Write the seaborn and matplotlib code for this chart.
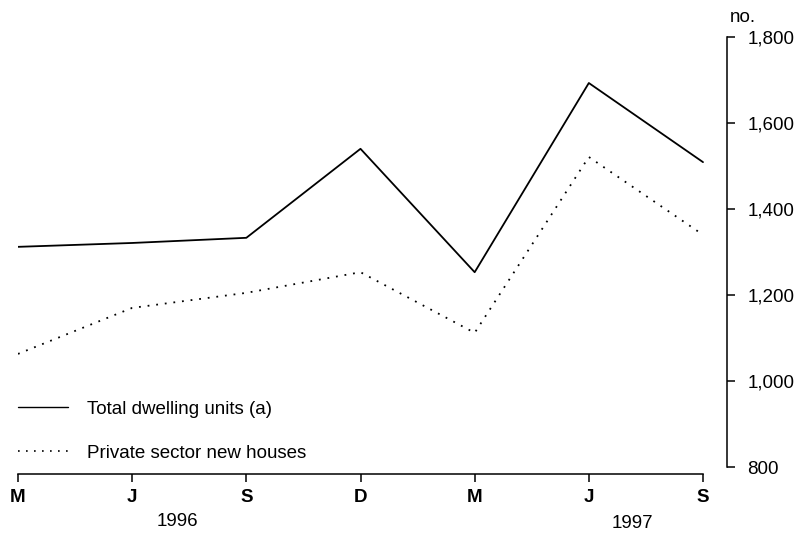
import matplotlib
matplotlib.use("Agg")
import matplotlib.pyplot as plt
import seaborn as sns
import pandas as pd
from matplotlib.lines import Line2D

quarters = ["M", "J", "S", "D", "M", "J", "S"]
total_units = [1312, 1321, 1333, 1540, 1253, 1693, 1509]
private_houses = [1063, 1170, 1205, 1253, 1112, 1521, 1340]
y_ticks = [800, 1000, 1200, 1400, 1600, 1800]
y_tick_labels = ["800", "1,000", "1,200", "1,400", "1,600", "1,800"]
years = ["1996", "1997"]
series_names = ["Total dwelling units (a)", "Private sector new houses"]

sns.set_style("white")
plt.rcParams["font.family"] = ["Liberation Sans", "DejaVu Sans"]
plt.rcParams["text.color"] = "black"
plt.rcParams["xtick.color"] = "black"
plt.rcParams["ytick.color"] = "black"

FS = 13.5

idx = list(range(len(quarters)))
df = pd.DataFrame({
    "idx": idx * 2,
    "value": total_units + private_houses,
    "series": [series_names[0]] * len(idx) + [series_names[1]] * len(idx),
})

fig = plt.figure(figsize=(7.98, 5.33), dpi=100)
W, H = 798, 533
ax = fig.add_axes([18 / W, 1 - 474 / H, (727 - 18) / W, (474 - 37) / H])

DOT = (0, (1, 3.8))
styles = {series_names[0]: "-", series_names[1]: DOT}
for name in series_names:
    sub = df[df["series"] == name]
    sns.lineplot(data=sub, x="idx", y="value", ax=ax, color="black",
                 linewidth=1.3,
                 linestyle=styles[name], legend=False)

ax.set_xlim(0, (727 - 18) / ((703 - 18) / 6))
ax.set_ylim(800 - 7 / 0.43, 1800)

ax.yaxis.tick_right()
ax.spines["left"].set_visible(False)
ax.spines["top"].set_visible(False)
ax.spines["right"].set_bounds(800, 1800)
ax.spines["bottom"].set_bounds(0, 6)
for s in ["right", "bottom"]:
    ax.spines[s].set_color("black")
    ax.spines[s].set_linewidth(1.1)

ax.set_yticks(y_ticks)
ax.set_yticklabels(y_tick_labels)
ax.set_xticks(idx)
ax.set_xticklabels(quarters, fontweight="bold")
ax.tick_params(axis="y", direction="out", length=6, width=1.1, pad=8.5,
               labelsize=FS, right=True, left=False, colors="black")
ax.tick_params(axis="x", direction="out", length=6, width=1.1, pad=5,
               labelsize=FS, bottom=True, colors="black")
ax.set_xlabel("")
ax.set_ylabel("")

fig.text(730 / W, 1 - 18 / H, "no.", fontsize=FS, ha="left", va="center")
fig.text(177 / W, 1 - 522 / H, years[0], fontsize=FS, ha="center", va="center")
fig.text(632 / W, 1 - 523 / H, years[1], fontsize=FS, ha="center", va="center")

handles = [Line2D([], [], color="black", linewidth=1.0, linestyle="-"),
           Line2D([], [], color="black", linewidth=1.2, linestyle=DOT)]
fig.legend(handles, series_names, loc="upper left",
           bbox_to_anchor=(10.5 / W, 1 - 393 / H), frameon=False, fontsize=FS,
           handlelength=2.67, handletextpad=1.0, labelspacing=1.43,
           borderaxespad=0)

fig.savefig("out.png", dpi=100)
